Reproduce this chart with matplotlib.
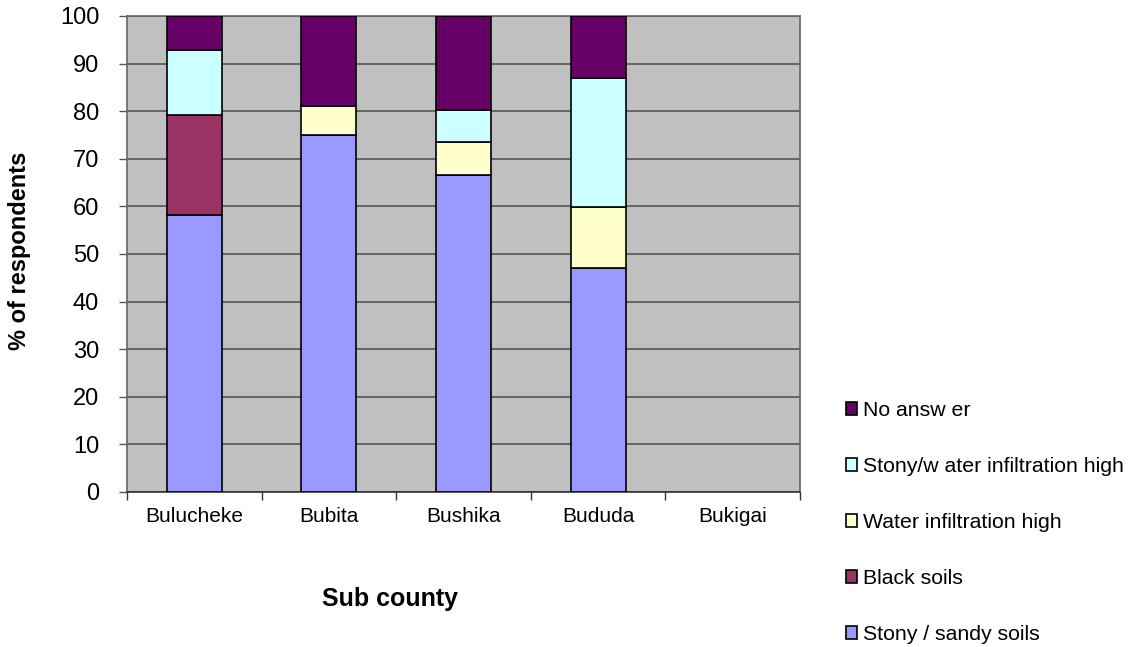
import matplotlib
matplotlib.use("Agg")
import matplotlib.pyplot as plt
import numpy as np

plt.rcParams['font.family'] = ['Liberation Sans', 'DejaVu Sans']

categories = ["Bulucheke", "Bubita", "Bushika", "Bududa", "Bukigai"]
series_names = ["Stony / sandy soils", "Black soils", "Water infiltration high",
                "Stony/w ater infiltration high", "No answ er"]
stony_sandy = [58.2, 75.0, 66.7, 47.0, 0]
black_soils = [21.0, 0, 0, 0, 0]
water_infiltration = [0, 6.1, 6.9, 12.9, 0]
stony_water = [13.6, 0, 6.7, 27.1, 0]
no_answer = [7.2, 18.9, 19.7, 13.0, 0]
y_ticks = [0, 10, 20, 30, 40, 50, 60, 70, 80, 90, 100]

colors = ["#9999FF", "#993366", "#FFFFCC", "#CCFFFF", "#660066"]
series = [stony_sandy, black_soils, water_infiltration, stony_water, no_answer]

W, H = 1136, 647
fig = plt.figure(figsize=(W / 100, H / 100), dpi=100)
ax = fig.add_axes([127 / W, (H - 492) / H, (800 - 127) / W, (492 - 16) / H])
ax.set_facecolor("#C0C0C0")

x = np.arange(len(categories))
bottom = np.zeros(len(categories))
handles = []
for name, vals, c in zip(series_names, series, colors):
    vals = np.array(vals, dtype=float)
    lws = np.where(vals > 0, 1.2, 0.0)
    b = ax.bar(x, vals, width=0.41, bottom=bottom, color=c, edgecolor="black",
               linewidth=lws, label=name, zorder=3)
    handles.append(b)
    bottom += vals

ax.set_xlim(-0.5, len(categories) - 0.5)
ax.set_ylim(0, 100)
ax.set_yticks(y_ticks)
ax.set_yticklabels([str(v) for v in y_ticks], fontsize=17)
ax.yaxis.grid(True, color="#555555", linewidth=1.2, zorder=1)
ax.set_axisbelow(True)
ax.tick_params(axis="y", length=6, width=1, color="#555555", pad=14)

ax.set_xticks(x)
ax.set_xticklabels(categories, fontsize=15)
ax.set_xticks(np.arange(-0.5, len(categories)), minor=True)
ax.tick_params(axis="x", which="major", length=0, pad=11)
ax.tick_params(axis="x", which="minor", length=6, width=1, color="#333333")

for s in ["left", "right", "top"]:
    ax.spines[s].set_color("#666666")
    ax.spines[s].set_linewidth(1.2)
ax.spines["bottom"].set_color("#333333")
ax.spines["bottom"].set_linewidth(1.2)

fig.text(390 / W, 1 - 599 / H, "Sub county", fontsize=18, fontweight="bold",
         ha="center", va="center")
fig.text(20 / W, 1 - 251 / H, "% of respondents", fontsize=17, fontweight="bold",
         ha="center", va="center", rotation=90)

leg = fig.legend(handles[::-1], series_names[::-1], loc="upper left",
                 bbox_to_anchor=(835 / W, 1 - 390 / H), frameon=False,
                 fontsize=15.3, labelspacing=1.75, handlelength=0.55,
                 handleheight=0.55, handletextpad=0.25, borderpad=0)
for lh in leg.legend_handles:
    lh.set_linewidth(1.2)

fig.savefig("out.png", dpi=100)
